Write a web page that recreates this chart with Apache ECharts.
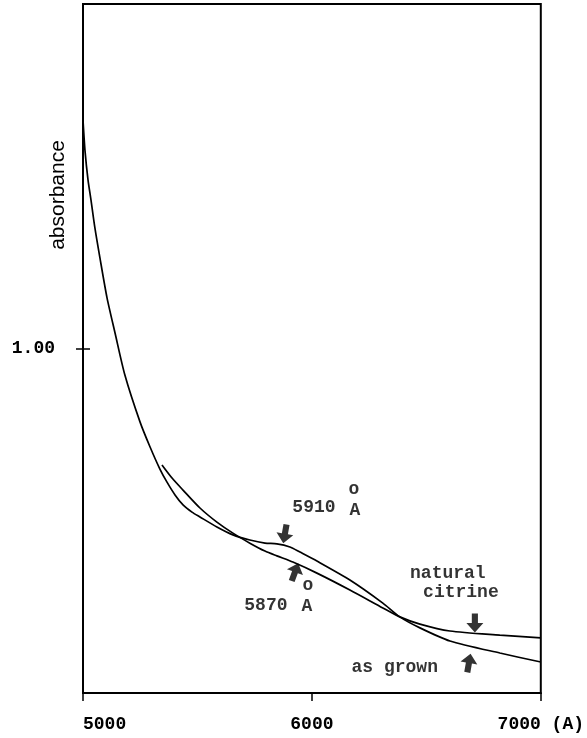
<!DOCTYPE html>
<html><head><meta charset="utf-8">
<script src="https://cdn.jsdelivr.net/npm/echarts@6/dist/echarts.min.js"></script>
<style>html,body{margin:0;padding:0;background:#fff}#c{width:587px;height:738px}</style>
</head><body><div id="c"></div>
<script>
// wavelength (Å) and absorbance
const asGrownX = [5000, 5009, 5022, 5035, 5052, 5074, 5105, 5140, 5183, 5249, 5293, 5336, 5367, 5402, 5437, 5476, 5511, 5585, 5655, 5729, 5795, 5847, 5904, 5948, 6022, 6166, 6310, 6384, 6472, 6603, 6821, 7000];
const asGrownY = [1.663, 1.572, 1.489, 1.431, 1.350, 1.263, 1.147, 1.045, 0.923, 0.787, 0.714, 0.650, 0.612, 0.575, 0.546, 0.525, 0.511, 0.482, 0.459, 0.444, 0.435, 0.433, 0.424, 0.409, 0.383, 0.328, 0.261, 0.221, 0.189, 0.151, 0.116, 0.090];
const naturalX = [5345, 5389, 5437, 5511, 5585, 5655, 5729, 5795, 5847, 5917, 6022, 6166, 6310, 6384, 6472, 6603, 6821, 7000];
const naturalY = [0.662, 0.624, 0.589, 0.537, 0.496, 0.464, 0.435, 0.412, 0.398, 0.380, 0.348, 0.299, 0.247, 0.221, 0.200, 0.180, 0.168, 0.160];
const xTicks = [5000, 6000, 7000];
const yTicks = [1.00];

const mono = '"Liberation Mono", "DejaVu Sans Mono", monospace';
const zip = (xs, ys) => xs.map((x, i) => [x, ys[i]]);
const ARROW = 'path://M5,0 L10,5.5 L6.8,5.5 L6.8,11 L3.2,11 L3.2,5.5 L0,5.5 Z';

function txt(coord, text, size) {
  return { value: coord, symbol: 'rect', symbolSize: 1, itemStyle: { color: 'rgba(0,0,0,0)' },
    label: { show: true, position: 'inside', formatter: text, color: '#000', fontFamily: mono, fontWeight: 'bold', fontSize: size || 18 } };
}
function arrow(coord, rot) {
  return { value: coord, symbol: ARROW, symbolSize: [17, 19], symbolRotate: rot, itemStyle: { color: '#000' }, label: { show: false } };
}

const annotations = [
  txt([6009, 0.540], '5910'), txt([6188, 0.531], 'A'), txt([6183, 0.592], 'o'),
  txt([5799, 0.255], '5870'), txt([5978, 0.250], 'A'), txt([5983, 0.311], 'o'),
  txt([6594, 0.348], 'natural'), txt([6651, 0.293], 'citrine'),
  txt([6362, 0.073], 'as grown'),
  arrow([5882, 0.462], 170), arrow([5926, 0.351], -20),
  arrow([6712, 0.203], 180), arrow([6686, 0.087], -10)
];

const chart = echarts.init(document.getElementById('c'), null, { renderer: 'canvas' });
chart.setOption({
  animation: false,
  backgroundColor: '#fff',
  grid: { left: 83, right: 46, top: 4, bottom: 45, show: true, borderColor: '#000', borderWidth: 2, backgroundColor: 'transparent' },
  xAxis: {
    type: 'value', min: xTicks[0], max: xTicks[xTicks.length - 1], interval: 1000,
    axisLine: { show: true, lineStyle: { color: '#000', width: 2 } },
    axisTick: { show: true, length: 8, lineStyle: { color: '#000', width: 1.5 } },
    splitLine: { show: false },
    axisLabel: { color: '#000', fontFamily: mono, fontWeight: 'bold', fontSize: 18, margin: 22, alignMinLabel: 'left',
      formatter: v => v === 7000 ? '7000 (A)' : String(v) }
  },
  yAxis: [{
    type: 'value', min: 0, max: 2, interval: 1,
    axisLine: { show: true, lineStyle: { color: '#000', width: 2 } },
    axisTick: { show: true, length: 7, customValues: yTicks, lineStyle: { color: '#000', width: 1.5 } },
    splitLine: { show: false },
    axisLabel: { customValues: yTicks, color: '#000', fontFamily: mono, fontWeight: 'bold', fontSize: 18, margin: 28, formatter: v => v.toFixed(2) }
  }, {
    type: 'value', min: 0, max: 2, interval: 1, position: 'left',
    axisLine: { show: false },
    axisTick: { show: true, inside: true, length: 7, customValues: yTicks, lineStyle: { color: '#000', width: 1.5 } },
    axisLabel: { show: false }, splitLine: { show: false }
  }],
  graphic: [{
    type: 'text', x: 58, y: 195, rotation: Math.PI / 2,
    style: { text: 'absorbance', fill: '#000', font: '21px "Liberation Sans", Arial, sans-serif', textAlign: 'center', textVerticalAlign: 'middle' }
  }],
  series: [
    { name: 'as grown', type: 'line', data: zip(asGrownX, asGrownY), showSymbol: false, smooth: 0.25,
      lineStyle: { color: '#000', width: 1.7 } },
    { name: 'natural citrine', type: 'line', data: zip(naturalX, naturalY), showSymbol: false, smooth: 0.25,
      lineStyle: { color: '#000', width: 1.7 } },
    { name: 'annotations', type: 'scatter', data: annotations, silent: true, z: 5 }
  ]
});
</script></body></html>
